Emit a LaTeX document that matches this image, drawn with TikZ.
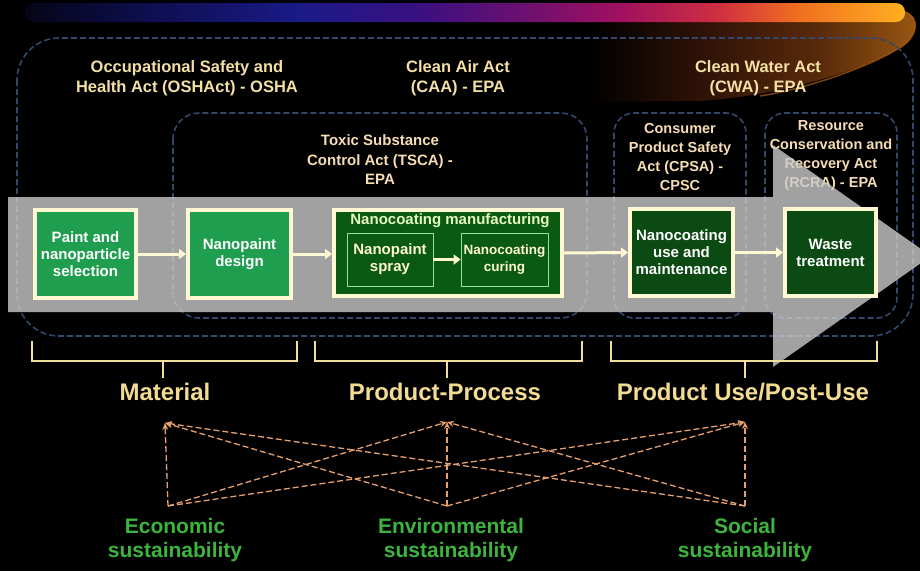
\documentclass[tikz,border=0pt]{standalone}
\usepackage{fontspec}
\setmainfont{Liberation Sans}
\usetikzlibrary{arrows.meta}
\definecolor{dashblue}{HTML}{34486E}
\definecolor{cream}{HTML}{FFF8D2}
\definecolor{brightgreen}{HTML}{1E9E4E}
\definecolor{darkgreen}{HTML}{0B4A12}
\definecolor{mangreen}{HTML}{0A5A12}
\definecolor{lawtext}{HTML}{F3E0A4}
\definecolor{peach}{HTML}{F6DDB4}
\definecolor{stagetext}{HTML}{F4DB92}
\definecolor{brkcol}{HTML}{F2DFA0}
\definecolor{orangedash}{HTML}{E6A070}
\definecolor{susgreen}{HTML}{3CB43E}
\definecolor{arrowgray}{HTML}{CACACA}
\definecolor{innergreen}{HTML}{9AE09A}
\definecolor{bar0}{HTML}{050518}
\definecolor{bar1}{HTML}{0E0E50}
\definecolor{bar2}{HTML}{1A1A88}
\definecolor{bar3}{HTML}{3A1080}
\definecolor{bar4}{HTML}{6A1070}
\definecolor{bar5}{HTML}{A01060}
\definecolor{bar6}{HTML}{D03040}
\definecolor{bar7}{HTML}{F07020}
\definecolor{bar8}{HTML}{FFB020}
\definecolor{glowA}{HTML}{2A1006}
\definecolor{glowB}{HTML}{5A2A0A}
\definecolor{glowC}{HTML}{9A5812}
\pgfdeclarehorizontalshading{barshade}{100bp}{color(0bp)=(bar0); color(25bp)=(bar0); color(32bp)=(bar1); color(40.6bp)=(bar2); color(47.4bp)=(bar3); color(53.1bp)=(bar4); color(58.8bp)=(bar5); color(64.5bp)=(bar6); color(69bp)=(bar7); color(75bp)=(bar8); color(100bp)=(bar8)}
\pgfdeclarehorizontalshading{glowshade}{100bp}{color(0bp)=(black); color(25bp)=(black); color(40bp)=(glowA); color(60bp)=(glowB); color(75bp)=(glowC); color(100bp)=(glowC)}
\tikzset{
  lawbox/.style={draw=dashblue, line width=1.6pt, dash pattern=on 6pt off 3pt, rounded corners=26pt},
  boxbase/.style={draw=cream, line width=4pt, text=white, align=center, inner sep=0pt,
    font=\fontsize{15}{17}\selectfont\bfseries},
  lightbox/.style={boxbase, fill=brightgreen},
  darkbox/.style={boxbase, fill=darkgreen},
  subbox/.style={draw=innergreen, line width=0.8pt, fill=mangreen, text=cream, align=center, inner sep=0pt,
    font=\fontsize{15}{17}\selectfont\bfseries},
  flow/.style={draw=cream, line width=3pt, -{Triangle[length=7pt,width=10pt]}},
  lawlabel/.style={text=lawtext, align=center, font=\fontsize{16.5}{20}\selectfont\bfseries},
  sublaw/.style={text=peach, align=center, font=\fontsize{14.5}{19}\selectfont\bfseries},
  stage/.style={text=stagetext, font=\fontsize{24}{28}\selectfont\bfseries},
  brk/.style={draw=brkcol, line width=2.6pt},
  susarrow/.style={draw=orangedash, line width=1.3pt, dash pattern=on 6pt off 3pt, -{Stealth[length=7pt,width=6pt]}},
  suslabel/.style={text=susgreen, align=center, font=\fontsize{21}{24}\selectfont\bfseries}
}
\begin{document}
\begin{tikzpicture}[x=1pt,y=-1pt]
\useasboundingbox (0,0) rectangle (920,571);
\fill[black] (0,0) rectangle (920,571);
% glow and top bar
\shade[shading=glowshade] (590,16) -- (905,12) .. controls (920,16) and (920,38) .. (896,50) .. controls (862,70) and (780,96) .. (700,101) -- (590,102) -- cycle;
\draw[glowC!80!orange, line width=1.5pt, opacity=0.7] (905,12) .. controls (920,16) and (920,38) .. (896,50) .. controls (862,70) and (800,90) .. (760,96);
\shade[shading=barshade, rounded corners=9pt] (25,3) rectangle (905,22);
% law boxes
\draw[lawbox, rounded corners=42pt] (17,38) rectangle (913,336);
\draw[lawbox] (173,113) rectangle (587,318);
\draw[lawbox, rounded corners=20pt] (614,113) rectangle (746,318);
\draw[lawbox, rounded corners=20pt] (765,113) rectangle (897,318);
% law labels
\node[lawlabel] (osha) at (187,78) {Occupational Safety and\\Health Act (OSHAct) - OSHA};
\node[lawlabel] (caa) at (458,78) {Clean Air Act\\(CAA) - EPA};
\node[lawlabel] (cwa) at (758,78) {Clean Water Act\\(CWA) - EPA};
\node[sublaw, font=\fontsize{15}{19.5}\selectfont\bfseries] (tsca) at (380,160) {Toxic Substance\\Control Act (TSCA) -\\EPA};
\node[sublaw] (cpsa) at (680,157) {Consumer\\Product Safety\\Act (CPSA) -\\CPSC};
\node[sublaw] (rcra) at (831,156) {Resource\\Conservation and\\Recovery Act\\(RCRA) - EPA};
% big gray arrow
\fill[arrowgray, opacity=0.8] (8,197) -- (773,197) -- (773,145) -- (931,256) -- (773,367) -- (773,312) -- (8,312) -- cycle;
% process boxes
\node[lightbox, minimum width=101pt, minimum height=88pt] (paint) at (85.5,254) {Paint and\\nanoparticle\\selection};
\node[lightbox, minimum width=103pt, minimum height=88pt] (design) at (239.5,254) {Nanopaint\\design};
\node[boxbase, fill=mangreen, minimum width=228pt, minimum height=86pt] (manuf) at (448,253) {};
\node[text=cream!90!green, font=\fontsize{15}{17}\selectfont\bfseries] (mtitle) at (450,221) {Nanocoating manufacturing};
\node[subbox, minimum width=86pt, minimum height=53pt] (spray) at (390,259.5) {Nanopaint\\spray};
\node[subbox, minimum width=87pt, minimum height=53pt, font=\fontsize{13.5}{17}\selectfont\bfseries] (curing) at (504.5,259.5) {Nanocoating\\curing};
\node[darkbox, minimum width=103pt, minimum height=87pt] (use) at (681.5,252.5) {Nanocoating\\use and\\maintenance};
\node[darkbox, minimum width=91pt, minimum height=87pt] (waste) at (830.5,252.5) {Waste\\treatment};
% flow arrows
\draw[flow] (paint.east) -- (design.west);
\draw[flow] (design.east) -- (manuf.west |- design.east);
\draw[flow] (manuf.east) -- (use.west);
\draw[flow] (use.east) -- (waste.west);
\draw[flow, line width=2.6pt] (spray.east) -- (curing.west);
% brackets
\draw[brk] (32,341) -- (32,361) -- (297,361) -- (297,341);
\draw[brk] (163,361) -- (163,378);
\draw[brk] (315,341) -- (315,361) -- (582,361) -- (582,341);
\draw[brk] (447,361) -- (447,378);
\draw[brk] (611,341) -- (611,361) -- (877,361) -- (877,341);
\draw[brk] (745,361) -- (745,378);
% stage labels
\node[stage] (material) at (165,392) {Material};
\node[stage] (process) at (445,392) {Product-Process};
\node[stage] (postuse) at (743,392) {Product Use/Post-Use};
% sustainability links
\coordinate (tM) at (165,423);
\coordinate (tP) at (447,422);
\coordinate (tU) at (745,422);
\coordinate (sE) at (168,506);
\coordinate (sV) at (447,506);
\coordinate (sS) at (745,506);
\foreach \s in {sE,sV,sS}{
  \foreach \t in {tM,tP,tU}{
    \draw[susarrow] (\s) -- (\t);
  }
}
\node[suslabel] (econ) at (175,540) {Economic\\sustainability};
\node[suslabel] (env) at (451,540) {Environmental\\sustainability};
\node[suslabel] (social) at (745,540) {Social\\sustainability};
\end{tikzpicture}
\end{document}
